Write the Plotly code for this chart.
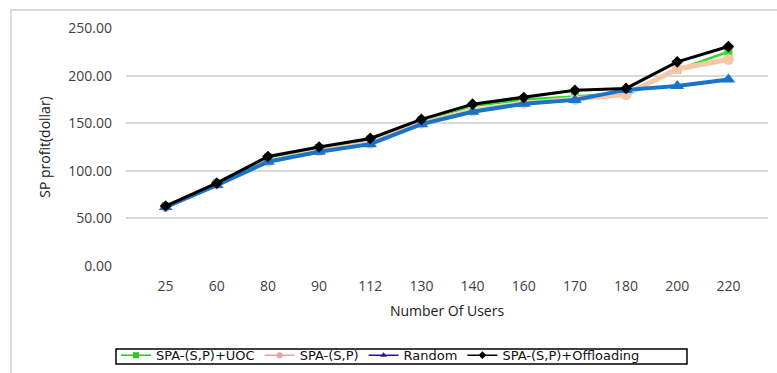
import plotly.graph_objects as go

# Number of users (categorical axis)
users = ["25", "60", "80", "90", "112", "130", "140", "160", "170", "180", "200", "220"]

# SP profit (dollar) per scheme
spa_uoc = [63, 87, 114, 124, 133, 153, 168, 175, 178, 182, 206, 225]
spa_sp = [62, 86, 110, 121, 129, 150, 163, 171, 175, 180, 207, 217]
random_alloc = [62, 85, 109.5, 120, 128, 149, 162, 170.5, 174.5, 185, 189, 196]
spa_offload = [63, 87, 115, 125, 134, 154, 170, 177, 184.5, 186.5, 214.5, 230.5]

series_names = ["SPA-(S,P)+UOC", "SPA-(S,P)", "Random", "SPA-(S,P)+Offloading"]

y_ticks = [0, 50, 100, 150, 200, 250]
y_tick_text = ["0.00", "50.00", "100.00", "150.00", "200.00", "250.00"]

fig = go.Figure()

# plotted series (legend keys are drawn separately below)
plot_styles = [
    (spa_uoc, dict(color="#2EDB2E", width=2.5), dict(symbol="square", size=8, color="#2EDB2E")),
    (spa_sp, dict(color="#F6C7A8", width=5), dict(symbol="circle", size=11, color="#F6C7A8")),
    (random_alloc, dict(color="#1874C8", width=4), dict(symbol="triangle-up", size=12, color="#1874C8")),
    (spa_offload, dict(color="#000000", width=3), dict(symbol="diamond", size=9, color="#000000")),
]
for name, (vals, ln, mk) in zip(series_names, plot_styles):
    fig.add_trace(go.Scatter(
        x=users, y=vals, name=name, mode="lines+markers",
        line=ln, marker=mk, showlegend=False, legendgroup=name,
    ))

# legend keys: thin lines with small markers
legend_styles = [
    ("#22CC22", "square"),
    ("#E8A3A3", "circle"),
    ("#1A1A9A", "triangle-up"),
    ("#000000", "diamond"),
]
for name, (col, sym) in zip(series_names, legend_styles):
    fig.add_trace(go.Scatter(
        x=[None], y=[None], name=name, mode="lines+markers",
        line=dict(color=col, width=1.5),
        marker=dict(symbol=sym, size=6, color=col),
        legendgroup=name,
    ))

axis_font = dict(family="Open Sans, Lato, sans-serif", size=14, color="#404040")
title_font = dict(family="Open Sans, Lato, sans-serif", size=14, color="#202020")

fig.update_layout(
    width=777, height=373,
    margin=dict(l=126, r=9, t=28, b=107, autoexpand=False),
    paper_bgcolor="white", plot_bgcolor="white",
    showlegend=True,
    legend=dict(
        orientation="h", x=-0.0156, y=-0.312, xanchor="left", yanchor="top",
        borderwidth=0, bgcolor="rgba(0,0,0,0)",
        font=dict(family="DejaVu Sans, sans-serif", size=13, color="#111111"),
        itemwidth=30, tracegroupgap=0,
    ),
    xaxis=dict(
        type="category", showgrid=False, showline=False, zeroline=False,
        ticks="", tickfont=axis_font, ticklabelstandoff=10,
        title=dict(text="Number Of Users", font=title_font, standoff=12),
    ),
    yaxis=dict(
        range=[0, 250], tickvals=y_ticks, ticktext=y_tick_text,
        showgrid=True, gridcolor="#D9D9D9", gridwidth=1.5,
        zeroline=False, showline=False, ticks="", tickfont=axis_font,
        ticklabelstandoff=13,
        title=dict(text="SP profit(dollar)", font=title_font, standoff=14),
    ),
    shapes=[
        # outer chart frame
        dict(
            type="rect", xref="paper", yref="paper",
            x0=-0.179, x1=1.03, y0=-0.47, y1=1.0756,
            line=dict(color="#D9D9D9", width=2), fillcolor="rgba(0,0,0,0)", layer="below",
        ),
        # legend box
        dict(
            type="rect", xref="paper", yref="paper",
            x0=-0.0156, x1=0.8738, y0=-0.4118, y1=-0.3487,
            line=dict(color="#000000", width=1.5), fillcolor="rgba(0,0,0,0)",
        ),
    ],
)

fig.write_html("out.html")
